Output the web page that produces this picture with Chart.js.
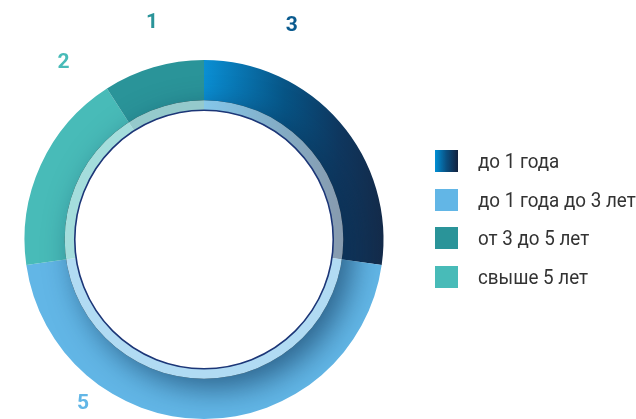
<!DOCTYPE html>
<html>
<head>
<meta charset="utf-8">
<script src="https://cdn.jsdelivr.net/npm/chart.js@4.4.1/dist/chart.umd.min.js"></script>
<style>
  body { margin: 0; background: #fff; }
  #wrap { position: relative; width: 636px; height: 419px; }
  #legend { position: absolute; left: 435px; top: 150px; font-family: Roboto, sans-serif; color: #333; }
  .row { display: flex; align-items: center; height: 22px; margin-bottom: 16.6px; white-space: nowrap; }
  .sw { width: 23px; height: 22px; margin-right: 20px; flex: none; }
  .txt { font-size: 20px; transform: scaleX(0.94); transform-origin: left center; }
</style>
</head>
<body>
<div id="wrap">
  <canvas id="myChart" width="636" height="419"></canvas>
  <div id="legend"></div>
</div>
<script>
'use strict';
// data, in the order the segments go clockwise from the top
const categories = ['до 1 года', 'до 1 года до 3 лет', 'свыше 5 лет', 'от 3 до 5 лет'];
const values = [3, 5, 2, 1];
// legend shows them in another order
const legendOrder = [0, 1, 3, 2];

const colors = ['#0a5a8c', '#62b6e6', '#48bbb8', '#2a9499'];
const labelColors = ['#0b5b8f', '#62b6e6', '#48bbb8', '#2a9499'];
// where the numbers sit: angle from top (deg) and distance as part of outer radius
const labelAngles = [22.4, 216.4, -38.4, -13.5];
const labelRadii = [1.285, 1.135, 1.26, 1.24];

function darkGradient(c) {
  let chart = c.chart;
  let a = chart.chartArea;
  if (!a) return colors[0];
  let cx = (a.left + a.right) / 2;
  let r = Math.min(a.right - a.left, a.bottom - a.top) / 2;
  let g = chart.ctx.createLinearGradient(cx, 0, cx + r, 0);
  g.addColorStop(0, '#0a8fd4');
  g.addColorStop(0.45, '#075586');
  g.addColorStop(0.75, '#0f3860');
  g.addColorStop(1, '#142b4a');
  return g;
}

// inner shadow, light ring and the numbers
const ringPlugin = {
  id: 'ring',
  afterDatasetsDraw(chart) {
    let arc = chart.getDatasetMeta(0).data[0];
    let p = arc.getProps(['x', 'y', 'innerRadius', 'outerRadius'], true);
    let x = p.x, y = p.y, rin = p.innerRadius, rout = p.outerRadius;
    let r1 = rin + (rout - rin) * 0.2;
    let c = chart.ctx;
    let full = Math.PI * 2;

    c.save();
    c.beginPath();
    c.arc(x, y, rout, 0, full);
    c.arc(x, y, r1, 0, full, true);
    c.clip();
    c.shadowColor = 'rgba(10,45,80,0.6)';
    c.shadowBlur = 30;
    c.shadowOffsetX = 10;
    c.shadowOffsetY = 10;
    c.beginPath();
    c.arc(x, y, r1, 0, full);
    c.fillStyle = '#000';
    c.fill();
    c.restore();

    c.save();
    c.beginPath();
    c.arc(x, y, r1, 0, full);
    c.arc(x, y, rin, 0, full, true);
    c.fillStyle = 'rgba(255,255,255,0.5)';
    c.fill();
    c.beginPath();
    c.arc(x, y, rin, 0, full);
    c.strokeStyle = '#1c3677';
    c.lineWidth = 1.6;
    c.stroke();

    c.font = 'bold 21px Roboto';
    c.textAlign = 'center';
    c.textBaseline = 'middle';
    let data = chart.data.datasets[0].data;
    for (let i = 0; i < data.length; i++) {
      let ang = (labelAngles[i] - 90) * Math.PI / 180;
      let rr = rout * labelRadii[i];
      c.fillStyle = labelColors[i];
      c.fillText(String(data[i]), x + rr * Math.cos(ang), y + rr * Math.sin(ang));
    }
    c.restore();
  }
};

let ctx = document.getElementById('myChart').getContext('2d');
let chart = new Chart(ctx, {
  type: 'doughnut',
  data: {
    labels: categories,
    datasets: [{
      data: values,
      backgroundColor: function (c) {
        return c.dataIndex === 0 ? darkGradient(c) : colors[c.dataIndex];
      },
      borderWidth: 0,
      hoverOffset: 0,
      offset: 0
    }]
  },
  options: {
    responsive: false,
    animation: false,
    cutout: '72%',
    layout: { padding: { left: 24, right: 252, top: 60, bottom: 0 } },
    plugins: {
      legend: { display: false },
      tooltip: { enabled: false }
    }
  },
  plugins: [ringPlugin]
});

// html legend
let legendDiv = document.getElementById('legend');
for (let k = 0; k < legendOrder.length; k++) {
  let i = legendOrder[k];
  let row = document.createElement('div');
  row.className = 'row';
  let sw = document.createElement('div');
  sw.className = 'sw';
  sw.style.background = i === 0 ? 'linear-gradient(to right, #0090d6, #0a4f80 50%, #13223f)' : colors[i];
  let txt = document.createElement('span');
  txt.className = 'txt';
  txt.textContent = categories[i];
  row.appendChild(sw);
  row.appendChild(txt);
  legendDiv.appendChild(row);
}
</script>
</body>
</html>
